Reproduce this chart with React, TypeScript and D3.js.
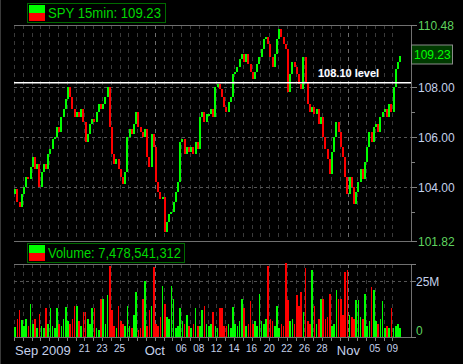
import React, { useRef, useEffect } from "react";
import * as d3 from "d3";

// trading days shown on the chart (Sep 9 .. Nov 9, 2009)
const tradingDays = [
  "09-09", "09-10", "09-11", "09-14", "09-15", "09-16", "09-17", "09-18",
  "09-21", "09-22", "09-23", "09-24", "09-25", "09-28", "09-29", "09-30",
  "10-01", "10-02", "10-05", "10-06", "10-07", "10-08", "10-09", "10-12",
  "10-13", "10-14", "10-15", "10-16", "10-19", "10-20", "10-21", "10-22",
  "10-23", "10-26", "10-27", "10-28", "10-29", "10-30", "11-02", "11-03",
  "11-04", "11-05", "11-06", "11-09",
];

const axisLabels = [
  { day: "09-09", text: "Sep 2009", major: true },
  { day: "09-21", text: "21", major: false },
  { day: "09-23", text: "23", major: false },
  { day: "09-25", text: "25", major: false },
  { day: "10-01", text: "Oct", major: true },
  { day: "10-06", text: "06", major: false },
  { day: "10-08", text: "08", major: false },
  { day: "10-12", text: "12", major: false },
  { day: "10-14", text: "14", major: false },
  { day: "10-16", text: "16", major: false },
  { day: "10-20", text: "20", major: false },
  { day: "10-22", text: "22", major: false },
  { day: "10-26", text: "26", major: false },
  { day: "10-28", text: "28", major: false },
  { day: "11-02", text: "Nov", major: true },
  { day: "11-05", text: "05", major: false },
  { day: "11-09", text: "09", major: false },
];

const firstOpen = 103.7;

// closes, 4 bars per trading day
const closes = [
  103.9, 103.4, 103.2, 103.7,
  104.0, 104.4, 104.3, 104.8,
  105.2, 104.7, 104.9, 104.0,
  104.6, 104.9, 104.7, 105.3,
  105.5, 105.9, 106.0, 106.4,
  106.2, 106.8, 107.1, 107.5,
  108.0, 107.6, 107.1, 106.8,
  107.0, 106.8, 107.1, 106.6,
  105.8, 106.1, 106.5, 106.7,
  106.6, 107.0, 107.3, 107.1,
  107.3, 107.6, 108.0, 106.4,
  105.3, 104.9, 105.1, 104.7,
  104.4, 104.1, 104.6, 106.0,
  106.3, 106.1, 106.5, 107.0,
  106.4, 106.2, 106.0, 106.3,
  105.2, 104.8, 106.1, 105.6,
  104.2, 103.8, 103.5, 103.6,
  102.2, 102.6, 102.9, 103.0,
  103.4, 103.8, 104.2, 105.8,
  105.9, 105.3, 105.6, 105.4,
  105.6, 105.3, 105.8, 105.5,
  106.8, 107.0, 106.6, 106.9,
  106.9, 107.1, 106.8, 108.0,
  108.1, 107.9, 107.6, 107.2,
  107.0, 107.4, 107.6, 108.5,
  108.6, 108.8, 109.1, 109.3,
  109.0, 109.3, 108.9, 108.6,
  108.3, 108.6, 108.9, 109.2,
  109.5, 109.9, 110.0, 109.7,
  109.2, 108.8, 109.3, 109.9,
  110.3, 110.0, 109.7, 109.5,
  107.8, 108.5, 109.0, 108.8,
  108.5, 108.1, 107.9, 109.2,
  108.2, 107.3, 107.0, 107.2,
  106.9, 107.1, 106.5, 106.8,
  106.0, 105.5, 105.1, 104.5,
  105.4, 106.0, 106.6, 106.2,
  105.6, 105.2, 104.4, 103.7,
  104.4, 104.0, 103.3, 103.8,
  104.2, 104.7, 104.3, 105.0,
  105.6, 106.2, 105.8, 106.4,
  106.5, 106.2, 106.8, 107.0,
  107.1, 106.8, 107.3, 107.0,
  108.0, 108.7, 109.0, 109.23,
];

// volume in millions, same bars
const volumes = [
  4.5, 8, 12, 7.5,
  5, 8, 5, 15,
  6, 8, 4, 10.5,
  5, 4, 13, 6,
  13, 5, 4, 13,
  6, 5, 8, 13.5,
  7, 6, 8, 14,
  14, 7, 5, 11,
  11, 8, 6, 13,
  13, 4, 3, 17,
  17, 6, 19, 32,
  12, 5, 4, 14,
  7, 6, 5, 14,
  5, 4, 10, 20,
  3, 4, 17, 25,
  5, 12, 14, 31.5,
  6, 5, 9, 23,
  15, 9, 8, 23,
  17, 4, 5, 13,
  7, 6, 10, 5,
  4, 6, 13, 5,
  5, 12, 14, 6,
  5, 6, 11, 5,
  4, 13, 13, 5,
  5, 6, 4, 13.5,
  6, 5, 7, 17,
  13, 5, 6, 16,
  6, 7, 5, 19.5,
  7, 6, 8, 32,
  8, 7, 5, 14,
  4, 6, 5, 33,
  16.5, 7, 8, 6,
  19, 14, 20, 11,
  31, 7, 6, 30,
  14, 6, 8, 17,
  17, 8, 9, 19.5,
  5, 6, 21, 17,
  17, 10, 29, 30,
  10, 9, 8, 16.5,
  16.5, 9, 8, 19.5,
  5, 7, 22.5, 21,
  7, 6, 8, 16,
  4, 5, 4, 13,
  4, 5, 6, 4,
];

const priceLabels = [110.48, 108.0, 106.0, 104.0, 101.82];
const priceGrid = [108, 106, 104];
const priceMinor = [109, 107, 105, 103];
const volumeLabels = [{ v: 25, text: "25M" }, { v: 0, text: "0" }];
const levelValue = 108.1;
const totalVolume = "7,478,541,312";

const W = 463;
const H = 364;
const BARS_PER_DAY = 4;
const FONT = "'Liberation Sans', Arial, sans-serif";
const GREEN = "#00ff00";
const RED = "#ff0000";
const AXIS_BLUE = "#c4d0ea";
const AXIS_GREEN = "#5fd35f";

const App: React.FC = () => {
  const ref = useRef<SVGSVGElement>(null);

  useEffect(() => {
    const svg = d3.select(ref.current);
    svg.selectAll("*").remove();

    const left = 14;
    const right = 411;
    const pTop = 25;
    const pBottom = 241;
    const vTop = 264;
    const vBottom = 337;

    const nDays = tradingDays.length + 1; // one empty slot at the right
    const xDay = d3.scaleLinear().domain([0, nDays]).range([left, left + 8.8 * nDays]);
    const xBar = d3.scaleLinear().domain([0, nDays * BARS_PER_DAY]).range([left, left + 8.8 * nDays]);
    const yPrice = d3.scaleLinear().domain([101.82, 110.48]).range([pBottom, pTop]);
    const yVol = d3.scaleLinear().domain([0, 25]).range([vBottom, 281.3]);

    svg.append("rect").attr("width", W).attr("height", H).attr("fill", "#000");
    svg.append("line").attr("x1", 0.5).attr("x2", 0.5).attr("y1", 0).attr("y2", H)
      .attr("stroke", "#3a3a3a");

    // vertical day grid
    const grid = svg.append("g").attr("fill", "none");
    tradingDays.forEach((d, i) => {
      const x = Math.round(xDay(i)) + 0.5;
      const monthStart = i > 0 && d.slice(0, 2) !== tradingDays[i - 1].slice(0, 2);
      const c = monthStart ? "#6e6e6e" : "#3a3a3a";
      [[pTop, pBottom], [vTop, vBottom]].forEach(([a, b]) => {
        grid.append("line").attr("x1", x).attr("x2", x).attr("y1", a).attr("y2", b)
          .attr("stroke", c).attr("stroke-dasharray", "4,4");
      });
      grid.append("line").attr("x1", x).attr("x2", x).attr("y1", vBottom).attr("y2", vBottom + 4)
        .attr("stroke", "#808080");
    });

    // horizontal grid
    priceGrid.forEach((v) => {
      const y = Math.round(yPrice(v)) + 0.5;
      grid.append("line").attr("x1", left).attr("x2", right).attr("y1", y).attr("y2", y)
        .attr("stroke", "#555").attr("stroke-dasharray", "3,3");
    });
    {
      const y = Math.round(yVol(25)) + 0.5;
      grid.append("line").attr("x1", left).attr("x2", right).attr("y1", y).attr("y2", y)
        .attr("stroke", "#555").attr("stroke-dasharray", "3,3");
    }

    // frames
    const frame = svg.append("g").attr("stroke", "#707070").attr("fill", "none");
    [pTop, pBottom, vTop, vBottom].forEach((y) => {
      frame.append("line").attr("x1", left).attr("x2", right).attr("y1", y + 0.5).attr("y2", y + 0.5);
    });
    frame.append("line").attr("x1", right + 0.5).attr("x2", right + 0.5).attr("y1", pTop).attr("y2", pBottom + 1);
    frame.append("line").attr("x1", right + 0.5).attr("x2", right + 0.5).attr("y1", vTop).attr("y2", vBottom + 1);

    // right price axis
    const axis = svg.append("g").attr("font-family", FONT);
    priceLabels.forEach((v, i) => {
      const y = Math.round(yPrice(v)) + 0.5;
      axis.append("line").attr("x1", right).attr("x2", right + 6).attr("y1", y).attr("y2", y)
        .attr("stroke", "#808080");
      const extreme = i === 0 || i === priceLabels.length - 1;
      axis.append("text").attr("x", 418).attr("y", y).attr("dy", "0.36em")
        .attr("font-size", 12).attr("fill", extreme ? AXIS_GREEN : AXIS_BLUE)
        .text(v.toFixed(2));
    });
    priceMinor.forEach((v) => {
      const y = Math.round(yPrice(v)) + 0.5;
      axis.append("line").attr("x1", right).attr("x2", right + 4).attr("y1", y).attr("y2", y)
        .attr("stroke", "#808080");
    });
    volumeLabels.forEach((l) => {
      const y = Math.round(yVol(l.v)) + 0.5;
      axis.append("line").attr("x1", right).attr("x2", right + 5).attr("y1", y).attr("y2", y)
        .attr("stroke", "#808080");
      axis.append("text").attr("x", 416).attr("y", l.v === 0 ? y - 7 : y).attr("dy", "0.36em")
        .attr("font-size", 12).attr("fill", l.v === 0 ? AXIS_GREEN : AXIS_BLUE)
        .text(l.text);
    });
    {
      const y = Math.round(yVol(32.8)) + 0.5;
      axis.append("line").attr("x1", right).attr("x2", right + 5).attr("y1", y).attr("y2", y)
        .attr("stroke", "#808080");
    }

    // x labels
    axisLabels.forEach((l) => {
      const i = tradingDays.indexOf(l.day);
      const x = xDay(i);
      axis.append("text").attr("x", l.major && i === 0 ? x + 1 : x)
        .attr("y", l.major ? 355 : 352)
        .attr("text-anchor", l.major && i === 0 ? "start" : "middle")
        .attr("font-size", l.major ? 13 : 10).attr("fill", AXIS_BLUE).text(l.text);
    });

    // candles
    const bars = closes.map((c, i) => {
      const o = i === 0 ? firstOpen : closes[i - 1];
      return { i, o, c, up: c >= o, v: volumes[i] };
    });
    const cw = 2;
    svg.append("g").attr("shape-rendering", "crispEdges")
      .selectAll("rect").data(bars).join("rect")
      .attr("x", (d) => xBar(d.i + 0.5) - cw / 2)
      .attr("width", cw)
      .attr("y", (d) => yPrice(Math.max(d.o, d.c)))
      .attr("height", (d) => Math.max(1.5, Math.abs(yPrice(d.o) - yPrice(d.c))))
      .attr("fill", (d) => (d.up ? GREEN : RED));

    // volume bars
    const bw = 1.6;
    svg.append("g").attr("shape-rendering", "crispEdges")
      .selectAll("rect").data(bars).join("rect")
      .attr("x", (d) => xBar(d.i + 0.5) - bw / 2)
      .attr("width", bw)
      .attr("y", (d) => yVol(d.v))
      .attr("height", (d) => vBottom - yVol(d.v))
      .attr("fill", (d) => (d.up ? GREEN : RED));

    // 108.10 level line
    const ly = yPrice(levelValue) - 1.5;
    svg.append("line").attr("x1", left).attr("x2", right).attr("y1", ly).attr("y2", ly)
      .attr("stroke", "#fff").attr("stroke-width", 1.5);
    svg.append("text").attr("x", 318).attr("y", 77).attr("font-family", FONT)
      .attr("font-size", 11).attr("font-weight", "bold").attr("fill", "#fff")
      .attr("stroke", "#203050").attr("stroke-width", 0.6).attr("paint-order", "stroke")
      .text(`${levelValue.toFixed(2)} level`);

    // current price box
    const last = closes[closes.length - 1];
    const cy = Math.round(yPrice(last)) - 1.5;
    svg.append("rect").attr("x", 411.5).attr("y", cy - 9.5).attr("width", 41).attr("height", 19)
      .attr("fill", "#003a00").attr("stroke", "#8a8a8a");
    svg.append("text").attr("x", 414).attr("y", cy).attr("dy", "0.36em").attr("font-family", FONT)
      .attr("font-size", 12).attr("fill", GREEN).text(last.toFixed(2));

    // legends
    const legend = (y: number, w: number, tw: number, label: string) => {
      const g = svg.append("g").attr("transform", `translate(27,${y})`);
      g.append("rect").attr("x", 0.5).attr("y", 0.5).attr("width", w).attr("height", 19)
        .attr("fill", "#000").attr("stroke", "#006a00");
      g.append("rect").attr("x", 2).attr("y", 2).attr("width", 16).attr("height", 8).attr("fill", GREEN);
      g.append("rect").attr("x", 2).attr("y", 10).attr("width", 16).attr("height", 8).attr("fill", RED);
      g.append("text").attr("x", 21).attr("y", 15).attr("font-family", FONT).attr("font-size", 14)
        .attr("textLength", tw).attr("lengthAdjust", "spacingAndGlyphs")
        .attr("fill", "#00d800").text(label);
    };
    legend(3, 138, 113, `SPY 15min: ${last.toFixed(2)}`);
    legend(243, 157, 133, `Volume: ${totalVolume}`);
  });

  return (
    <svg ref={ref} width={W} height={H} style={{ position: "absolute", left: 0, top: 0 }}></svg>
  );
};

export default App;
